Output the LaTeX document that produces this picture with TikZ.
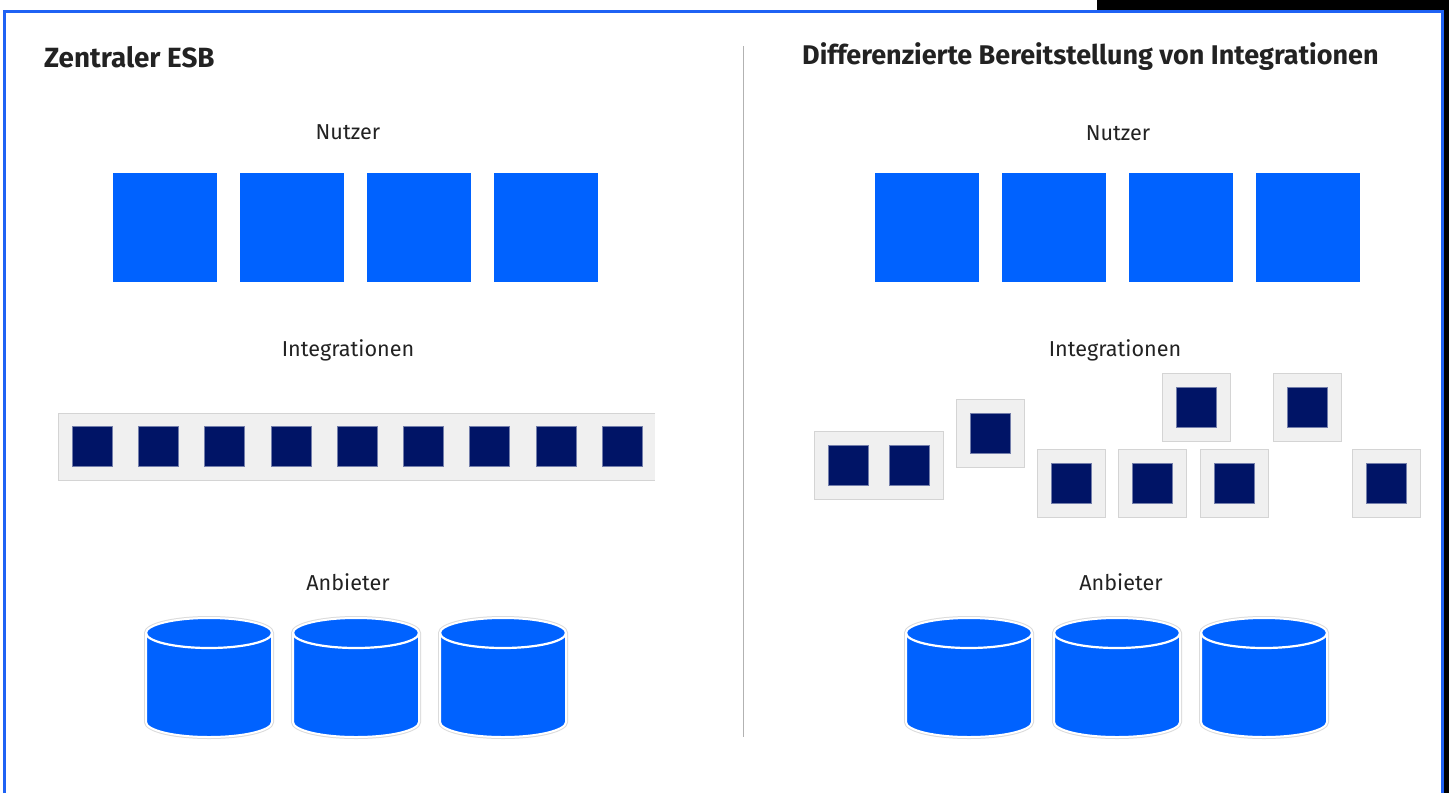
\documentclass[tikz,border=0pt]{standalone}
\usepackage{fontspec}
\setmainfont{Fira Sans}
\definecolor{frameblue}{HTML}{1F62F4}
\definecolor{userblue}{HTML}{0062FF}
\definecolor{navy}{HTML}{001466}
\definecolor{boxgray}{HTML}{F0F0F0}
\definecolor{boxline}{HTML}{D4D4D4}
\definecolor{ink}{HTML}{222222}
\tikzset{
  title/.style={anchor=base west, inner sep=0, text=ink, font=\bfseries\fontsize{27}{32}\selectfont},
  label/.style={inner sep=0, text=ink, font=\fontsize{21.6}{25}\selectfont},
  user/.style={fill=userblue, minimum width=104, minimum height=109, inner sep=0, outer sep=0},
  intbox/.style={fill=boxgray, draw=boxline, line width=0.8, minimum width=68, minimum height=68, inner sep=0, outer sep=0},
  intsq/.style={fill=navy, draw=navy!55!white, line width=0.5, minimum width=40, minimum height=40, inner sep=0, outer sep=0},
  db/.pic={
    % silhouette of the cylinder: halo, then white rim with blue body
    \path[draw=black!14, line width=4]
      (-63,0) -- (-63,89) arc[start angle=180, end angle=360, x radius=63pt, y radius=15pt]
      -- (63,0) arc[start angle=0, end angle=180, x radius=63pt, y radius=15pt] -- cycle;
    \path[fill=userblue, draw=white, line width=2]
      (-63,0) -- (-63,89) arc[start angle=180, end angle=360, x radius=63pt, y radius=15pt]
      -- (63,0) arc[start angle=0, end angle=180, x radius=63pt, y radius=15pt] -- cycle;
    % front rim of the lid
    \draw[white, line width=2.2] (-63,0) arc[start angle=180, end angle=360, x radius=63pt, y radius=15pt];
  }
}
\begin{document}
\begin{tikzpicture}[x=1pt, y=-1pt]
\useasboundingbox (0,0) rectangle (1449,793);
\fill[white] (0,0) rectangle (1449,793);
% dark strip at the top right and right edge
\fill[black] (1097,0) rectangle (1449,10);
\fill[black] (1443,0) rectangle (1449,793);
% outer frame
\draw[frameblue, line width=3] (4.5,793) -- (4.5,11) -- (1442,11) -- (1442,793);

% separator
\draw[black!30, line width=0.8] (743,46) -- (743,737);

% ---------- left panel ----------
\node[title, font=\bfseries\fontsize{27.8}{32}\selectfont] (tl) at (44,67) {Zentraler ESB};
\node[label] (lnutzer) at (348,132) {Nutzer};
\foreach \i/\x in {1/165,2/292,3/419,4/546}
  \node[user] (lu\i) at (\x,227.5) {};
\node[label] (lint) at (348,350) {Integrationen};
\node[fill=boxgray, minimum width=597, minimum height=67, inner sep=0, outer sep=0] (bar) at (356.5,446.5) {};
\draw[boxline, line width=1] (bar.north east) -- (bar.north west) -- (bar.south west) -- (bar.south east);
\foreach \i/\x in {1/92,2/158.25,3/224.5,4/290.75,5/357,6/423.25,7/489.5,8/555.75,9/622}
  \node[intsq] (ls\i) at (\x,446.5) {};
\node[label] (lanb) at (348,582) {Anbieter};
\foreach \i/\x in {1/209,2/356,3/503}
  \pic (ldb\i) at (\x,633) {db};

% ---------- right panel ----------
\node[title] (tr) at (802,64) {Differenzierte Bereitstellung von Integrationen};
\node[label] (rnutzer) at (1118,133) {Nutzer};
\foreach \i/\x in {1/926.5,2/1053.5,3/1180.5,4/1307.5}
  \node[user] (ru\i) at (\x,227.5) {};
\node[label] (rint) at (1115,350) {Integrationen};

\node[intbox, minimum width=129] (pair) at (878.5,465) {};
\node[intsq] (pa) at ([xshift=-30.5]pair.center) {};
\node[intsq] (pb) at ([xshift=31]pair.center) {};
\foreach \n/\x/\y in {ba/990.5/433, bb/1196.5/407.5, bc/1307/407.5, bd/1071.5/483.5, be/1152.5/483.5, bf/1234/483.5, bg/1386/483.5}{
  \node[intbox] (\n) at (\x,\y) {};
  \node[intsq] (\n-s) at (\n.center) {};
}
\node[label] (ranb) at (1121,582) {Anbieter};
\foreach \i/\x in {1/969,2/1117,3/1264}
  \pic (rdb\i) at (\x,633) {db};
\end{tikzpicture}
\end{document}
